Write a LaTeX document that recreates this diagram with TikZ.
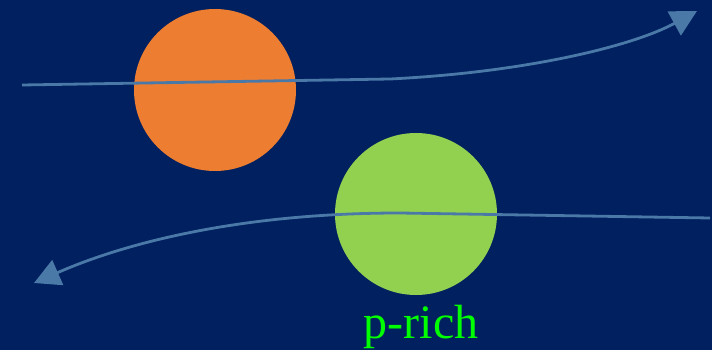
\documentclass[tikz,border=0pt]{standalone}
\usepackage{fontspec}
\setmainfont{Liberation Serif}
\usetikzlibrary{arrows.meta}
\definecolor{bgblue}{HTML}{002060}
\definecolor{ballorange}{HTML}{ED7D31}
\definecolor{ballgreen}{HTML}{92D050}
\definecolor{linkblue}{HTML}{4A79A8}
\definecolor{txtgreen}{HTML}{00FF00}
\tikzset{
  ball/.style={circle, minimum size=162pt, inner sep=0pt, draw=none},
  track/.style={draw=linkblue, line width=2.8pt, -{Triangle[length=26pt,width=27pt]}},
}
\begin{document}
\begin{tikzpicture}[x=1pt,y=-1pt]
\fill[bgblue] (0,0) rectangle (712,350);
\useasboundingbox (0,0) rectangle (712,350);
\node[ball, fill=ballorange] (orange) at (215,90) {};
\node[ball, fill=ballgreen] (green) at (416,214) {};
\coordinate (t0) at (22,85);
\coordinate (t1) at (390,79);
\coordinate (t2) at (697,11);
\coordinate (b0) at (710,218);
\coordinate (b1) at (400,213);
\coordinate (b2) at (34,283);
\draw[track] (t0) -- (t1) .. controls (530,72) and (635,45) .. (t2);
\draw[track] (b0) -- (b1) .. controls (240,213) and (125,243) .. (b2);
\node[text=txtgreen, font=\fontsize{48}{52}\selectfont, anchor=base] (label) at (421,338) {p-rich};
\end{tikzpicture}
\end{document}
